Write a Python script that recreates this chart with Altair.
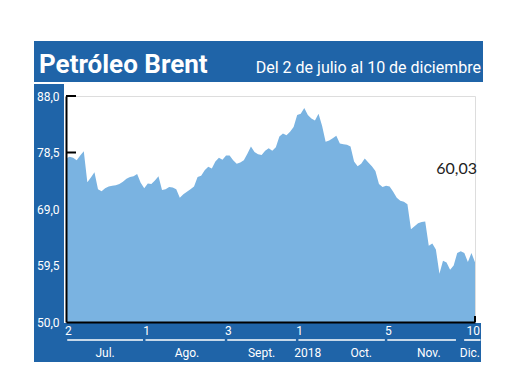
import altair as alt
import pandas as pd

# ---------------- data ----------------
prices = [
    77.5, 77.8, 77.6, 77.2, 78.0, 78.7, 73.5, 74.3, 75.2, 72.3,
    72.0, 72.5, 72.8, 72.9, 73.0, 73.2, 73.6, 74.1, 74.4, 74.5,
    74.9, 73.4, 72.5, 73.3, 73.2, 73.8, 74.5, 72.2, 72.3, 72.7,
    72.6, 72.3, 70.9, 71.5, 71.9, 72.3, 72.8, 74.4, 74.6, 75.5,
    76.1, 75.8, 77.0, 77.6, 77.3, 78.0, 78.0, 77.2, 76.6, 76.8,
    77.2, 78.3, 79.5, 78.6, 78.2, 78.1, 78.8, 79.2, 78.8, 79.4,
    81.2, 81.7, 81.4, 82.0, 82.8, 84.8, 85.0, 86.0, 84.8, 84.2,
    83.9, 85.0, 83.0, 80.3, 80.5, 80.9, 81.3, 80.0, 79.9, 79.8,
    79.5, 77.0, 76.2, 76.6, 77.5, 76.8, 76.2, 75.4, 73.2, 72.7,
    72.9, 72.8, 71.9, 70.9, 70.4, 70.2, 69.8, 65.6, 66.1, 66.6,
    66.8, 66.9, 62.8, 63.2, 62.2, 58.1, 60.3, 60.0, 58.8, 59.5,
    61.6, 61.9, 61.6, 60.1, 61.6, 60.03,
]
dates = [d.strftime("%Y-%m-%d") for d in pd.bdate_range("2018-07-02", "2018-12-10")]

y_ticks = [50.0, 59.5, 69.0, 78.5, 88.0]
day_labels = ["2", "1", "3", "1", "5", "10"]
day_dates = ["2018-07-02", "2018-08-01", "2018-09-03", "2018-10-01", "2018-11-05", "2018-12-10"]
month_labels = ["Jul.", "Ago.", "Sept.", "2018", "Oct.", "Nov.", "Dic."]
month_anchor_dates = ["2018-07-17", "2018-08-17", "2018-09-17", "2018-10-04",
                      "2018-10-25", "2018-11-21", "2018-12-10"]
seg_start_dates = ["2018-07-02", "2018-08-01", "2018-09-03", "2018-10-01", "2018-11-05", "2018-12-03"]
seg_end_dates = ["2018-08-01", "2018-09-03", "2018-10-01", "2018-11-05", "2018-12-03", "2018-12-10"]

title = "Petróleo Brent"
subtitle = "Del 2 de julio al 10 de diciembre"
last_label = "60,03"

# ---------------- tables ----------------
idx = {d: i for i, d in enumerate(dates)}
df = pd.DataFrame({"i": range(len(prices)), "date": dates, "price": prices})
ticks_df = pd.DataFrame({"price": [v for v in y_ticks if v > min(y_ticks)]})
days_df = pd.DataFrame({"i": [idx[d] for d in day_dates], "label": day_labels})
months_df = pd.DataFrame({"i": [idx[d] for d in month_anchor_dates], "label": month_labels})
segs_df = pd.DataFrame({"i": [idx[d] + 0.35 for d in seg_start_dates],
                        "i2": [idx[d] - 0.35 for d in seg_end_dates]})
segs_df.loc[segs_df.index[-1], "i"] = segs_df["i"].iloc[-1] + 1.6
segs_df.loc[segs_df.index[-1], "i2"] = segs_df["i2"].iloc[-1] + 1.9
last_df = pd.DataFrame({"i": [len(prices) - 1], "price": [prices[-1]], "label": [last_label]})
one = pd.DataFrame({"k": [0]})

BLUE = "#1f64a8"
AREA = "#7ab3e1"
FONT = "Roboto, Liberation Sans, sans-serif"

W, H = 409, 226

xscale = alt.Scale(domain=[0, len(prices) - 1], nice=False, zero=False)
yscale = alt.Scale(domain=[min(y_ticks), max(y_ticks)], nice=False, zero=False)
xaxis = alt.Axis(labels=False, ticks=False, grid=False, domainColor="black",
                 domainWidth=2, title=None, zindex=1)
yaxis = alt.Axis(values=y_ticks, labelExpr="replace(format(datum.value,'.1f'),'.',',')",
                 ticks=False, labelColor="white", labelFont=FONT, labelFontSize=12,
                 labelPadding=7, domainColor="black", domainWidth=2, grid=False,
                 title=None, zindex=1)

X = alt.X("i:Q", scale=xscale, axis=xaxis)
Y = alt.Y("price:Q", scale=yscale, axis=yaxis)

def panel(x, x2, y, y2):
    return alt.Chart(one).mark_rect(color=BLUE).encode(
        x=alt.value(x), x2=alt.value(x2), y=alt.value(y), y2=alt.value(y2))

bg = [
    panel(-32, 417, -55, -14),   # title band
    panel(-32, -2, -12, 266),    # left band
    panel(-32, 415, 227, 266),   # bottom band
]

title_txt = alt.Chart(one).mark_text(
    text=title, font=FONT, fontSize=26, fontWeight="bold", color="white",
    align="left", baseline="alphabetic").encode(x=alt.value(-27), y=alt.value(-23))
sub_txt = alt.Chart(one).mark_text(
    text=subtitle, font=FONT, fontSize=16, color="white",
    align="right", baseline="alphabetic").encode(x=alt.value(415), y=alt.value(-23))

tick_rules = alt.Chart(ticks_df).mark_rule(color="black", strokeWidth=2).encode(
    x=alt.value(0), x2=alt.value(10), y=Y)

area = alt.Chart(df).mark_area(color=AREA, opacity=1).encode(
    x=X, y=Y, y2=alt.datum(min(y_ticks)))

end_tick = alt.Chart(last_df).mark_rule(color="black", strokeWidth=2).encode(
    x=X, y=alt.value(226), y2=alt.value(220))

day_txt = alt.Chart(days_df.iloc[:-1]).mark_text(
    font=FONT, fontSize=12, color="white", align="left", baseline="middle", dx=-1
).encode(x=X, y=alt.value(235), text="label:N")
day_last = alt.Chart(days_df.iloc[-1:]).mark_text(
    font=FONT, fontSize=12, color="white", align="right", baseline="middle", dx=5
).encode(x=X, y=alt.value(235), text="label:N")

segs = alt.Chart(segs_df).mark_rule(color="white", strokeWidth=1.6).encode(
    x=X, x2="i2:Q", y=alt.value(244))

month_txt = alt.Chart(months_df.iloc[:-1]).mark_text(
    font=FONT, fontSize=12, color="white", align="center", baseline="middle"
).encode(x=X, y=alt.value(257), text="label:N")
month_last = alt.Chart(months_df.iloc[-1:]).mark_text(
    font=FONT, fontSize=12, color="white", align="right", baseline="middle", dx=5
).encode(x=X, y=alt.value(257), text="label:N")

last_txt = alt.Chart(last_df).mark_text(
    font="Lato, Open Sans, sans-serif", fontSize=16, color="#222222",
    align="right", baseline="middle", dx=2, dy=-93
).encode(x=X, y=Y, text="label:N")

chart = alt.layer(
    *bg, title_txt, sub_txt, tick_rules, area, end_tick,
    day_txt, day_last, segs, month_txt, month_last, last_txt
).properties(
    width=W, height=H,
    autosize=alt.AutoSizeParams(type="none"),
    padding={"left": 58, "top": 88, "right": 30, "bottom": 60},
).configure_view(strokeWidth=0).configure(background="white")

chart.save("out.html", embed_options={"renderer": "svg", "actions": False})
